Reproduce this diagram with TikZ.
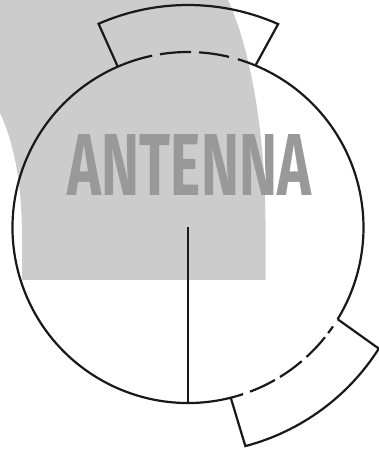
\documentclass[tikz,border=0pt]{standalone}
\usepackage{graphicx}
\usepackage{fontspec}
\setmainfont{Fira Sans}
\definecolor{backdropgrey}{gray}{0.8}
\definecolor{wordgrey}{gray}{0.6}
\definecolor{inkdark}{gray}{0.1}
\tikzset{outline/.style={draw=inkdark,line width=2.2pt,line join=miter}}
\begin{document}
\begin{tikzpicture}[x=1pt,y=1pt]
\useasboundingbox (0,0) rectangle (379,453);
\fill[white] (0,0) rectangle (379,453);
% grey backdrop
\fill[backdropgrey] (0,453) -- (228,453) .. controls (250,405) and (266,320) .. (265.5,223)
  -- (265.5,173) -- (22,173) -- (22,215) .. controls (22,270) and (14,310) .. (0,340) -- cycle;
\node[inner sep=0pt,text=wordgrey] (label) at (189.5,288.5)
  {\resizebox{243pt}{61pt}{\bfseries ANTENNA}};
\coordinate (c) at (188,225.5);
\begin{scope}[shift={(c)}]
  % solid circle parts
  \draw[outline] (67.4:175.5pt) arc[start angle=67.4,end angle=-31.5,radius=175.5pt];
  \draw[outline] (-71.7:175.5pt) arc[start angle=-71.7,end angle=-246.4,radius=175.5pt];
  % top dashes
  \foreach \a/\b in {113.6/101.8,99.2/89,86.4/76.5,73.5/67.4}
    \draw[outline] (\a:175.5pt) arc[start angle=\a,end angle=\b,radius=175.5pt];
  % bottom dashes
  \foreach \a/\b in {-69.3/-60.3,-58.4/-49.6,-47.5/-38.7,-37/-34.3}
    \draw[outline] (\a:175.5pt) arc[start angle=\a,end angle=\b,radius=175.5pt];
  % top sector
  \draw[outline] (113.6:175.5pt) -- (113.7:222.5pt)
    arc[start angle=113.7,end angle=66.1,radius=222.5pt] -- (67.4:175.5pt);
  % bottom sector
  \draw[outline] (-75.9:175.5pt) -- (-75.3:226pt)
    arc[start angle=-75.3,end angle=-32.4,radius=226pt] -- (-31.5:175.5pt);
  % radius
  \draw[outline] (0,0) -- (-90:175.5pt);
\end{scope}
\end{tikzpicture}
\end{document}
